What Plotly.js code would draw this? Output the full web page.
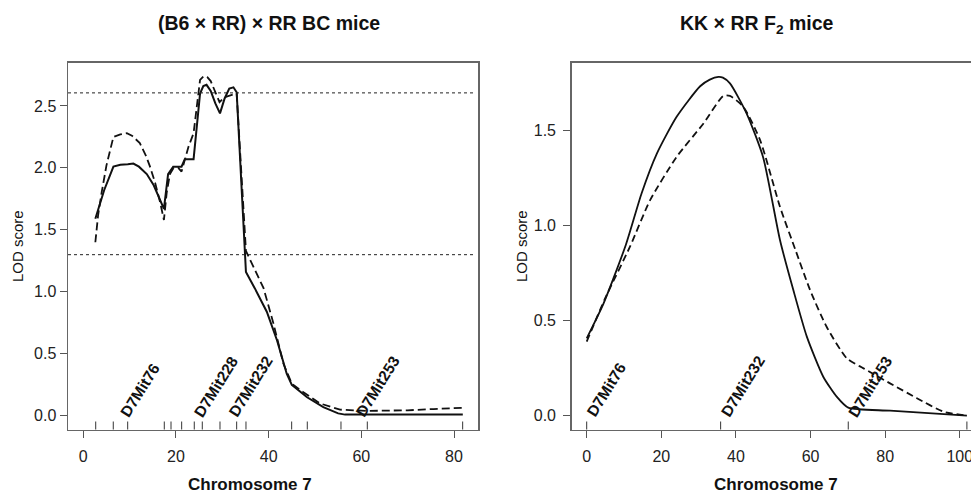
<!DOCTYPE html>
<html>
<head>
<meta charset="utf-8">
<script src="https://cdn.plot.ly/plotly-3.0.1.min.js"></script>
<style>html,body{margin:0;padding:0;background:#fff;}#chart{width:971px;height:493px;}</style>
</head>
<body>
<div id="chart"></div>
<script>
// ---- (B6 x RR) x RR BC mice : LOD profiles on chromosome 7 ----
const bcSolidPos = [2.6, 4.5, 6.5, 8.0, 9.6, 10.8, 12.0, 13.7, 15.2, 16.6, 17.4, 18.3, 19.4, 21.2, 21.9, 23.8, 25.2, 25.9, 26.6, 27.5, 28.5, 29.5, 30.5, 31.5, 32.4, 33.1, 35.1, 37.0, 39.6, 41.8, 43.9, 45.0, 48.3, 51.8, 55.0, 56.5, 61.3, 81.9];
const bcSolidLod = [1.59, 1.82, 2.01, 2.025, 2.03, 2.035, 2.01, 1.95, 1.86, 1.74, 1.67, 1.95, 2.01, 2.01, 2.07, 2.07, 2.60, 2.66, 2.67, 2.62, 2.52, 2.44, 2.56, 2.64, 2.65, 2.61, 1.16, 1.03, 0.84, 0.61, 0.34, 0.25, 0.15, 0.07, 0.02, 0.01, 0.01, 0.01];
const bcDashPos = [2.6, 3.2, 4.0, 5.0, 6.5, 8.0, 9.4, 10.5, 12.2, 13.5, 14.4, 15.5, 16.6, 17.4, 18.0, 18.7, 19.5, 20.5, 21.2, 22.7, 23.8, 25.2, 26.0, 26.8, 27.5, 28.1, 29.4, 30.5, 32.0, 33.1, 35.1, 36.7, 38.9, 41.0, 43.2, 45.0, 47.5, 51.1, 55.4, 61.3, 70.0, 75.6, 81.9];
const bcDashLod = [1.40, 1.62, 1.81, 2.02, 2.25, 2.27, 2.28, 2.26, 2.20, 2.10, 2.01, 1.88, 1.72, 1.58, 1.80, 1.95, 2.00, 2.00, 1.97, 2.17, 2.28, 2.71, 2.74, 2.73, 2.70, 2.65, 2.53, 2.57, 2.59, 2.60, 1.33, 1.20, 1.03, 0.75, 0.42, 0.26, 0.19, 0.10, 0.05, 0.04, 0.045, 0.055, 0.065];
const bcThresholds = [2.605, 1.30];
const bcMarkerPos = [2.68, 6.47, 9.58, 17.48, 18.93, 21.23, 23.95, 25.68, 29.50, 33.10, 35.11, 44.97, 48.34, 55.61, 61.29, 81.87];
const bcLabelNames = ['D7Mit76', 'D7Mit228', 'D7Mit232', 'D7Mit253'];
const bcLabelPos = [9.58, 25.68, 33.10, 60.5];
const bcXTicks = [0, 20, 40, 60, 80];
const bcYTicks = [0, 0.5, 1.0, 1.5, 2.0, 2.5];

// ---- KK x RR F2 mice : LOD profiles on chromosome 7 ----
const f2SolidPos = [0, 4.5, 10.5, 14.7, 18.8, 24.1, 30.4, 33.0, 35.3, 36.5, 38.4, 42.9, 47.3, 51.8, 55.4, 59.0, 63.4, 67.0, 70.1, 81.3, 101.9];
const f2SolidLod = [0.407, 0.59, 0.90, 1.17, 1.38, 1.574, 1.735, 1.77, 1.784, 1.78, 1.75, 1.59, 1.36, 0.925, 0.66, 0.416, 0.205, 0.10, 0.042, 0.026, 0.0];
const f2DashPos = [0, 5.0, 11.6, 17.0, 24.1, 31.3, 36.6, 38.4, 42.0, 46.5, 51.8, 56.0, 59.9, 64.3, 69.7, 74.2, 81.3, 88.5, 95.6, 102.0];
const f2DashLod = [0.39, 0.62, 0.89, 1.135, 1.363, 1.539, 1.684, 1.684, 1.626, 1.45, 1.10, 0.87, 0.66, 0.468, 0.302, 0.249, 0.17, 0.092, 0.021, 0.0];
const f2MarkerPos = [0, 35.9, 70.1, 101.9];
const f2LabelNames = ['D7Mit76', 'D7Mit232', 'D7Mit253'];
const f2LabelPos = [0, 35.9, 70.1];
const f2XTicks = [0, 20, 40, 60, 80, 100];
const f2YTicks = [0, 0.5, 1.0, 1.5];

const titles = ['(B6 \u00d7 RR) \u00d7 RR BC mice', 'KK \u00d7 RR F<sub>2</sub> mice'];
const xTitle = 'Chromosome 7';
const yTitle = 'LOD score';

// ---------------- drawing ----------------
const FONT = 'Liberation Sans, Arial, Helvetica, sans-serif';
const W = 971, H = 493;
const py = p => 1 - p / H;
const px = p => p / W;

const traces = [
  {x: bcSolidPos, y: bcSolidLod, xaxis: 'x', yaxis: 'y', mode: 'lines', line: {color: '#111', width: 2}, hoverinfo: 'skip'},
  {x: bcDashPos, y: bcDashLod, xaxis: 'x', yaxis: 'y', mode: 'lines', line: {color: '#111', width: 1.8, dash: '8px,4px'}, hoverinfo: 'skip'},
  {x: f2SolidPos, y: f2SolidLod, xaxis: 'x2', yaxis: 'y2', mode: 'lines', line: {color: '#111', width: 1.8, shape: 'spline', smoothing: 0.6}, hoverinfo: 'skip'},
  {x: f2DashPos, y: f2DashLod, xaxis: 'x2', yaxis: 'y2', mode: 'lines', line: {color: '#111', width: 1.8, dash: '7px,4px', shape: 'spline', smoothing: 0.6}, hoverinfo: 'skip'}
];

const shapes = [];
bcThresholds.forEach(t => shapes.push({type: 'line', xref: 'x domain', yref: 'y', x0: 0, x1: 0.99, y0: t, y1: t, line: {color: '#222', width: 1, dash: '3px,3px'}}));
bcMarkerPos.forEach(m => shapes.push({type: 'line', xref: 'x', yref: 'y domain', ysizemode: 'pixel', yanchor: 0, x0: m, x1: m, y0: 0, y1: 8, line: {color: '#333', width: 1}}));
f2MarkerPos.forEach(m => shapes.push({type: 'line', xref: 'x2', yref: 'y2 domain', ysizemode: 'pixel', yanchor: 0, x0: m, x1: m, y0: 0, y1: 8, line: {color: '#333', width: 1}}));

const annotations = [];
const labelFont = {family: FONT, size: 15.5, color: '#111'};
bcLabelNames.forEach((n, i) => annotations.push({text: '<b>' + n + '</b>', x: bcLabelPos[i], y: 0, xref: 'x', yref: 'y', xanchor: 'left', yanchor: 'bottom', xshift: -14, yshift: -7, textangle: -58, showarrow: false, font: labelFont}));
f2LabelNames.forEach((n, i) => annotations.push({text: '<b>' + n + '</b>', x: f2LabelPos[i], y: 0, xref: 'x2', yref: 'y2', xanchor: 'left', yanchor: 'bottom', xshift: -6, yshift: -7, textangle: -58, showarrow: false, font: labelFont}));

annotations.push({text: '<b>' + titles[0] + '</b>', x: px(269), y: py(23), xref: 'paper', yref: 'paper', xanchor: 'center', yanchor: 'middle', showarrow: false, font: {family: FONT, size: 19.5, color: '#111'}});
annotations.push({text: '<b>' + titles[1] + '</b>', x: px(757), y: py(24), xref: 'paper', yref: 'paper', xanchor: 'center', yanchor: 'middle', showarrow: false, font: {family: FONT, size: 19.5, color: '#111'}});
annotations.push({text: '<b>' + xTitle + '</b>', x: px(250), y: py(484), xref: 'paper', yref: 'paper', xanchor: 'center', yanchor: 'middle', showarrow: false, font: {family: FONT, size: 17, color: '#111'}});
annotations.push({text: '<b>' + xTitle + '</b>', x: px(776), y: py(484), xref: 'paper', yref: 'paper', xanchor: 'center', yanchor: 'middle', showarrow: false, font: {family: FONT, size: 17, color: '#111'}});
annotations.push({text: yTitle, x: px(18), y: py(246), xref: 'paper', yref: 'paper', xanchor: 'center', yanchor: 'middle', textangle: -90, showarrow: false, font: {family: FONT, size: 15, color: '#111'}});
annotations.push({text: yTitle, x: px(522), y: py(246), xref: 'paper', yref: 'paper', xanchor: 'center', yanchor: 'middle', textangle: -90, showarrow: false, font: {family: FONT, size: 15, color: '#111'}});

const axisBase = {
  showline: true, linecolor: '#666', linewidth: 1.5, showgrid: false, zeroline: false,
  ticks: 'outside', ticklen: 7, tickwidth: 1, tickcolor: '#555',
  tickfont: {family: FONT, size: 16, color: '#222'}, fixedrange: true, ticklabeloverflow: 'allow'
};
const yDomain = [py(429.5), py(62.5)];

const layout = {
  width: W, height: H, margin: {l: 0, r: 0, t: 0, b: 0}, showlegend: false,
  paper_bgcolor: '#fff', plot_bgcolor: '#fff',
  xaxis: Object.assign({}, axisBase, {domain: [px(68), px(478)], range: [-3.30, 85.18], tickvals: bcXTicks, anchor: 'y', mirror: true, ticklabelstandoff: 5}),
  yaxis: Object.assign({}, axisBase, {domain: yDomain, range: [-0.11, 2.85], tickvals: bcYTicks, tickformat: '.1f', anchor: 'x', mirror: true}),
  xaxis2: Object.assign({}, axisBase, {domain: [px(571.7), 1], range: [-4.02, 103.0], tickvals: f2XTicks, anchor: 'y2', mirror: true, ticklabelstandoff: 5}),
  yaxis2: Object.assign({}, axisBase, {domain: yDomain, range: [-0.073, 1.86], tickvals: f2YTicks, tickformat: '.1f', anchor: 'x2', mirror: false, ticklabelstandoff: 4}),
  shapes: shapes, annotations: annotations
};

Plotly.newPlot('chart', traces, layout, {staticPlot: true, displayModeBar: false});
</script>
</body>
</html>
